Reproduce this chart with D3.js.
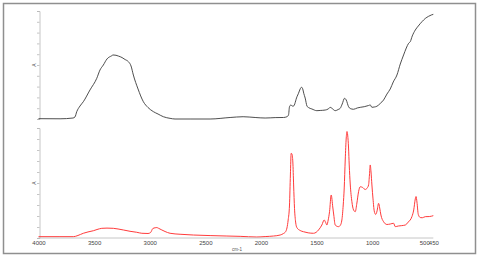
<!DOCTYPE html>
<html>
<head>
    <meta charset="utf-8">
    <style>
        body{ margin: 0; background: white; }
        svg{ display: block; font-family: 'Liberation Sans', Arial, sans-serif; }
        .axis path, .axis line{ stroke: #b8b8b8; stroke-width: 0.8; }
        .axis text{ fill: #444; font-size: 6px; }
    </style>
</head>
<body>
    <svg width="480" height="257"></svg>

<script src="https://d3js.org/d3.v7.min.js"></script>
<script>
    // wavenumber (cm-1) and absorbance for each spectrum
    let topWn = [4000, 3806, 3690, 3672, 3656, 3627, 3597, 3537, 3476, 3447, 3417, 3384, 3341, 3330, 3303, 3282,
        3249, 3222, 3192, 3168, 3147, 3105, 3057, 3015, 2967, 2925, 2877, 2817, 2772, 2637, 2457, 2277, 2160,
        2052, 1962, 1872, 1797, 1766, 1752, 1743, 1730, 1718, 1707, 1676, 1662, 1647, 1635, 1624, 1615, 1602,
        1586, 1572, 1542, 1497, 1467, 1422, 1395, 1377, 1359, 1332, 1305, 1287, 1269, 1248, 1233, 1212, 1197,
        1167, 1134, 1107, 1071, 1032, 1017, 1002, 981, 957, 927, 897, 867, 837, 810, 777, 747, 717, 693, 672,
        657, 639, 612, 585, 552, 522, 492, 468, 450]
    let topAbs = [0.003, 0.002, 0.009, 0.019, 0.068, 0.12, 0.16, 0.269, 0.377, 0.454, 0.5, 0.556, 0.586, 0.593, 0.59, 0.583,
        0.569, 0.551, 0.531, 0.491, 0.407, 0.278, 0.16, 0.106, 0.068, 0.046, 0.021, 0.006, 0.0, 0.0, 0.0, 0.014, 0.021,
        0.014, 0.009, 0.013, 0.014, 0.021, 0.037, 0.114, 0.13, 0.12, 0.12, 0.206, 0.238, 0.278, 0.294, 0.278, 0.238, 0.194,
        0.12, 0.106, 0.093, 0.077, 0.079, 0.083, 0.093, 0.108, 0.097, 0.077, 0.088, 0.099, 0.139, 0.192, 0.176, 0.114, 0.097,
        0.09, 0.102, 0.108, 0.114, 0.125, 0.13, 0.108, 0.111, 0.118, 0.144, 0.176, 0.231, 0.278, 0.343, 0.407, 0.509, 0.593, 0.657, 0.701,
        0.716, 0.769, 0.824, 0.861, 0.901, 0.931, 0.951, 0.963, 0.969]

    let botWn = [4000, 3807, 3687, 3645, 3597, 3555, 3507, 3474, 3431, 3384, 3327, 3285, 3237, 3177, 3117, 3071,
        3015, 2992, 2972, 2951, 2936, 2920, 2891, 2862, 2817, 2727, 2607, 2457, 2306, 2187, 2037, 1962, 1887,
        1827, 1797, 1777, 1766, 1755, 1743, 1735, 1728, 1721, 1713, 1706, 1698, 1688, 1677, 1647, 1617, 1575,
        1527, 1503, 1482, 1452, 1431, 1418, 1407, 1395, 1383, 1368, 1354, 1345, 1332, 1302, 1287, 1272, 1260,
        1251, 1242, 1233, 1226, 1220, 1212, 1206, 1197, 1182, 1167, 1152, 1137, 1122, 1107, 1085, 1062, 1044,
        1032, 1024, 1017, 1010, 1002, 992, 981, 968, 956, 942, 932, 921, 897, 867, 837, 807, 792, 765, 738,
        702, 675, 642, 626, 612, 605, 597, 585, 567, 549, 522, 486, 450]
    let botAbs = [0.012, 0.012, 0.012, 0.023, 0.043, 0.055, 0.066, 0.077, 0.088, 0.09, 0.088, 0.082, 0.073, 0.061, 0.052, 0.043,
        0.041, 0.05, 0.086, 0.093, 0.095, 0.088, 0.073, 0.059, 0.043, 0.034, 0.027, 0.022, 0.018, 0.015, 0.009, 0.013, 0.018,
        0.027, 0.041, 0.059, 0.091, 0.164, 0.3, 0.573, 0.77, 0.764, 0.691, 0.482, 0.27, 0.145, 0.095, 0.068, 0.057, 0.047,
        0.043, 0.052, 0.073, 0.118, 0.164, 0.141, 0.118, 0.164, 0.239, 0.391, 0.282, 0.209, 0.118, 0.103, 0.114, 0.164, 0.3,
        0.455, 0.709, 0.909, 0.968, 0.936, 0.818, 0.664, 0.491, 0.33, 0.255, 0.239, 0.318, 0.421, 0.466, 0.459, 0.441, 0.455,
        0.482, 0.573, 0.664, 0.6, 0.482, 0.355, 0.245, 0.214, 0.245, 0.315, 0.273, 0.209, 0.148, 0.123, 0.127, 0.134, 0.103, 0.109, 0.112,
        0.118, 0.145, 0.195, 0.255, 0.355, 0.377, 0.327, 0.214, 0.186, 0.184, 0.194, 0.195, 0.203]

    let xTicks = [4000, 3500, 3000, 2500, 2000, 1500, 1000, 500, 450]
    let yTicks = [0, 0.1, 0.2, 0.3, 0.4, 0.5, 0.6, 0.7, 0.8, 0.9, 1]

    let svg = d3.select("svg")

    // outer frame
    svg.append("rect")
        .attr("x", 3.5).attr("y", 3.5)
        .attr("width", 472).attr("height", 250)
        .attr("fill", "none")
        .attr("stroke", "#8f8f8f")
        .attr("stroke-width", 1.5)

    let x = d3.scaleLinear().domain([4000, 450]).range([38.5, 433.3])
    let yTop = d3.scaleLinear().domain([0, 1]).range([119, 11])
    let yBot = d3.scaleLinear().domain([0, 1]).range([238, 128])

    function panel(wn, abs, y, colour, width){
        let pts = wn.map((d, i) => [d, abs[i]])

        svg.append("g")
            .attr("class", "axis")
            .attr("transform", `translate(${x(4000) + 1},0)`)
            .call(d3.axisLeft(y).tickValues(yTicks).tickSize(2.5).tickFormat(""))

        svg.append("path")
            .datum(pts)
            .attr("fill", "none")
            .attr("stroke", colour)
            .attr("stroke-width", width)
            .attr("stroke-linejoin", "round")
            .attr("d", d3.line().x(d => x(d[0])).y(d => y(d[1])).curve(d3.curveMonotoneX))

        svg.append("text")
            .attr("transform", `translate(36,${(y.range()[0] + y.range()[1]) / 2}) rotate(-90)`)
            .attr("text-anchor", "middle")
            .attr("font-size", 5)
            .attr("fill", "#555")
            .text("A")
    }

    panel(topWn, topAbs, yTop, "#3a3a3a", 0.9)
    panel(botWn, botAbs, yBot, "#ff3b3b", 1)

    let xAxis = svg.append("g")
        .attr("class", "axis")
        .attr("transform", "translate(0,238)")
        .call(d3.axisBottom(x).tickValues(xTicks).tickSize(0).tickPadding(2.5).tickFormat(d3.format("d")))
    xAxis.select(".domain").attr("d", `M${x(4000)},0H${x(450)}`)
    xAxis.selectAll(".tick text")
        .attr("dx", d => d == 500 ? -3.5 : 0)

    svg.append("text")
        .attr("x", 237).attr("y", 250.5)
        .attr("text-anchor", "middle")
        .attr("font-size", 4.5)
        .attr("fill", "#555")
        .text("cm-1")
</script>
</body>
</html>
